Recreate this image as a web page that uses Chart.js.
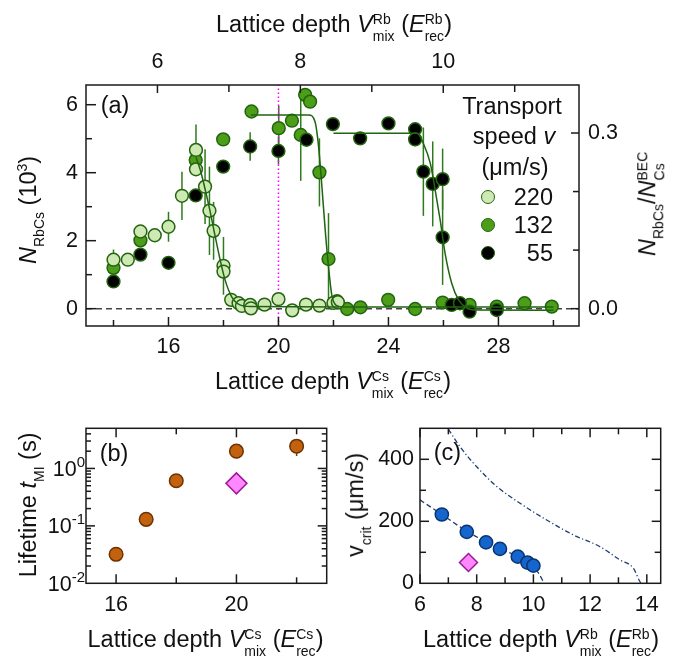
<!DOCTYPE html>
<html><head><meta charset="utf-8">
<title>RbCs transport</title>
<script src="https://cdn.jsdelivr.net/npm/chart.js@4.4.1/dist/chart.umd.min.js"></script>
<style>
html,body{margin:0;padding:0;background:#fff;}
#wrap{position:relative;width:676px;height:658px;overflow:hidden;font-family:"Liberation Sans",Arial,Helvetica,sans-serif;color:#111;}
.cv{position:absolute;}
.t{position:absolute;left:0;top:0;white-space:nowrap;font-size:23.5px;line-height:1;}
.tk{font-size:21.5px;}
.ss{display:inline-block;vertical-align:-9px;font-size:14px;line-height:17px;text-align:left;}
.ss>span{display:block;}
.sb{font-size:14px;vertical-align:-8px;line-height:1;}
.sp{font-size:14px;vertical-align:9px;line-height:1;}
.spt{font-size:15px;vertical-align:9px;line-height:1;}
.bl{display:inline-block;width:0;height:0;vertical-align:baseline;}
.mk{position:absolute;width:14px;height:14px;border-radius:50%;box-sizing:border-box;border:1.5px solid #23640f;}
</style></head><body>
<div id="wrap">
 <div class="cv" style="left:0;top:0"><canvas id="ca" width="676" height="400"></canvas></div>
 <div class="cv" style="left:0;top:400px"><canvas id="cb" width="340" height="258"></canvas></div>
 <div class="cv" style="left:340px;top:400px"><canvas id="cc" width="336" height="258"></canvas></div>

 <div class="t" data-x="334" data-y="24">Lattice depth <i>V</i><span class="ss"><span>Rb</span><span>mix</span></span> (<i>E</i><span class="ss"><span>Rb</span><span>rec</span></span>)</div>
 <div class="t" data-x="333" data-y="381">Lattice depth <i>V</i><span class="ss"><span>Cs</span><span>mix</span></span> (<i>E</i><span class="ss"><span>Cs</span><span>rec</span></span>)</div>
 <div class="t" data-x="28" data-y="210" data-rot="1"><i>N</i><span class="sb">RbCs</span> (10<span class="sp">3</span>)</div>
 <div class="t" data-x="647" data-y="204" data-rot="1"><i>N</i><span class="sb">RbCs</span>/<i>N</i><span class="ss"><span>BEC</span><span>Cs</span></span></div>
 <div class="t" data-x="115" data-y="105">(a)</div>
 <div class="t" data-x="512" data-y="106">Transport</div>
 <div class="t" data-x="514" data-y="136">speed <i>v</i></div>
 <div class="t" data-x="515" data-y="167">(μm/s)</div>
 <div class="t" data-x="553" data-y="197" data-al="r">220</div>
 <div class="t" data-x="553" data-y="225" data-al="r">132</div>
 <div class="t" data-x="553" data-y="253" data-al="r">55</div>
 <div class="mk" style="left:480.7px;top:189.7px;background:#cfe9b4"></div>
 <div class="mk" style="left:480.7px;top:218px;background:#4c9e19"></div>
 <div class="mk" style="left:480.7px;top:246.3px;background:#000"></div>

 <div class="t" data-x="205.5" data-y="639">Lattice depth <i>V</i><span class="ss"><span>Cs</span><span>mix</span></span> (<i>E</i><span class="ss"><span>Cs</span><span>rec</span></span>)</div>
 <div class="t" data-x="27" data-y="505" data-rot="1">Lifetime <i>t</i><span class="sb">MI</span> (s)</div>
 <div class="t" data-x="114" data-y="453">(b)</div>

 <div class="t" data-x="541" data-y="639">Lattice depth <i>V</i><span class="ss"><span>Rb</span><span>mix</span></span> (<i>E</i><span class="ss"><span>Rb</span><span>rec</span></span>)</div>
 <div class="t" data-x="355" data-y="505" data-rot="1">v<span class="sb">crit</span> (μm/s)</div>
 <div class="t" data-x="447.5" data-y="452">(c)</div>
</div>
<script>
// ================= DATA =================
// Panel (a): N_RbCs (10^3) vs Cs lattice depth, three transport speeds
const v220X = [14.0,14.52,14.98,15.5,16.0,16.49,17.0,17.0,17.33,17.49,17.64,18.0,18.0,18.28,18.55,18.67,18.97,19.0,19.49,20.0,20.5,21.0,21.49,22.0,22.16];
const v220Y = [1.44,1.44,2.27,2.16,2.41,3.32,4.67,4.1,3.59,2.88,2.29,1.26,1.09,0.26,0.16,0.08,0.11,0.01,0.12,0.28,-0.05,0.12,0.09,0.17,0.19];
const v220E = [0.3,0,0,0,0.44,0.71,0.75,0,1.1,1.3,0.85,0.85,0,0,0,0,0,0,0,0,0,0,0,0,0];
const v132X = [14.0,14.98,16.99,17.99,19.02,20.01,20.49,20.81,20.97,21.15,21.49,21.82,22.13,22.5,22.98,23.99,24.97,25.97,26.95,27.94,28.95,29.94];
const v132Y = [1.2,2.01,4.37,4.98,5.8,5.31,5.53,5.11,6.29,6.09,4.01,1.46,0.22,-0.01,0.04,0.26,-0.01,0.18,0.11,0.06,0.16,0.06];
const v132E = [0,0,0,0,0,0.66,0,1.35,0,0,1.0,1.35,0,0,0,0,0,0,0,0,0,0];
const v55X = [14.0,14.98,16.0,16.99,17.99,18.97,20.0,21.02,21.98,22.97,24.0,24.97,24.97,25.27,25.61,25.97,25.97,26.3,26.6,26.95,27.94];
const v55Y = [0.8,1.59,1.35,3.33,4.18,4.77,4.64,4.97,5.43,5.01,5.45,5.28,4.98,4.03,3.67,3.81,2.1,0.11,0.16,-0.09,-0.04];
const v55E = [0,0,0,0,0,0.42,0.4,0,0,0,0,0,0.2,1.3,1.25,0.9,1.4,0,0,0,0];
// fitted curves
const fit220X = [17.0,17.15,17.28,17.49,17.7,17.88,18.06,18.3,18.6,19.0,22.2];
const fit220Y = [4.45,4.1,3.69,2.95,2.12,1.43,0.84,0.35,0.11,0.06,0.05];
const fit132X = [19.0,21.1,21.33,21.46,21.58,21.7,21.82,21.94,22.1,22.4,30.0];
const fit132Y = [5.7,5.7,5.5,4.76,3.59,2.31,1.23,0.4,0.1,0.05,0.05];
const fit55X = [22.0,25.05,25.27,25.52,25.7,25.88,26.06,26.3,26.55,26.85,27.2,30.0];
const fit55Y = [5.16,5.16,4.86,4.28,3.49,2.61,1.63,0.75,0.26,0.02,-0.04,-0.05];
const zeroX = [13, 30.93], zeroY = [0, 0];
const markX = [20, 20], markY = [-0.51, 6.58];
// ticks panel (a)
const csTicks = [16,20,24,28], csMinor = [14,18,22,26,30];
const rbTicks = [6,8,10], rbMinor = [7,9,11];
const nTicks = [0,2,4,6], nMinor = [1,3,5];
const ratioTicks = [0.0,0.3], ratioMinor = [0.1,0.2];

// Panel (b): lifetime
const lifeX = [16,17,18,20,22];
const lifeY = [0.032,0.13,0.61,2.0,2.44];
const lifeE = [0,0,0,0.5,0.8];
const lifeDX = [20], lifeDY = [0.55];
const bXTicks = [16,20], bXMinor = [18,22];
const bYTicks = [0.01,0.1,1];
const bYMajorMarks = [0.1,1];
const bYMinor = [0.02,0.03,0.04,0.05,0.06,0.07,0.08,0.09,0.2,0.3,0.4,0.5,0.6,0.7,0.8,0.9,2,3,4];
const bYExp = ['-2','-1','0'];

// Panel (c): critical velocity
const critX = [6.77,7.65,8.33,8.82,9.45,9.79,10.0];
const critY = [222,166,132,111,86,67,57];
const critDX = [7.71], critDY = [67];
const lowX = [6.0,6.77,7.65,8.33,8.82,9.45,9.8,10.0,10.18,10.38];
const lowY = [269,222,168,134,112,86,68,55,33,0];
const upX = [7.0,7.41,8.0,8.71,9.53,10.47,11.41,12.35,13.06,13.53,13.76,13.8];
const upY = [497,441,376,312,258,204,156,118,75,48,5,0];
const cXTicks = [6,8,10,12,14], cXMinor = [7,9,11,13];
const cYTicks = [0,200,400], cYMarks = [200,400], cYMinor = [100,300];

// ================= HELPERS =================
const FONT = '"Liberation Sans", Arial, sans-serif';
Chart.defaults.font.family = FONT;
const tickFont = {family: FONT, size: 21.5};
const pts = (xs, ys) => xs.map((x, i) => ({x, y: ys[i]}));
const ptStyle = (bg, bd, r, style) => ({showLine:false, pointStyle: style || 'circle', pointRadius:r, pointHoverRadius:r,
  pointBackgroundColor:bg, pointBorderColor:bd, pointBorderWidth:1.5, backgroundColor:bg, borderColor:bd});
const lineStyle = (c, w, dash, mono) => ({showLine:true, pointRadius:0, pointHoverRadius:0, borderColor:c, borderWidth:w,
  borderDash:dash || [], fill:false, cubicInterpolationMode: mono ? 'monotone' : 'default', tension:0});
const setTicks = arr => s => { s.ticks = arr.map(v => ({value: v})); };
const axisCommon = (pad) => ({ticks:{font:tickFont, color:'#111', padding:pad, maxRotation:0, autoSkip:false},
  grid:{display:false, drawTicks:false}, border:{display:false}});

const errPlugin = {id:'errbars', beforeDatasetsDraw(chart){
  const ctx = chart.ctx, a = chart.chartArea;
  ctx.save(); ctx.beginPath(); ctx.rect(a.left, a.top, a.right - a.left, a.bottom - a.top); ctx.clip();
  chart.data.datasets.forEach((ds, i) => {
    if (!ds.errY) return;
    const meta = chart.getDatasetMeta(i);
    const xs = chart.scales[meta.xAxisID], ys = chart.scales[meta.yAxisID];
    ctx.strokeStyle = ds.errColor || '#2f7a1c'; ctx.lineWidth = 1.5;
    ds.data.forEach((p, j) => {
      const e = ds.errY[j]; if (!e) return;
      const x = xs.getPixelForValue(p.x);
      ctx.beginPath(); ctx.moveTo(x, ys.getPixelForValue(p.y - e)); ctx.lineTo(x, ys.getPixelForValue(p.y + e)); ctx.stroke();
    });
  });
  ctx.restore();
}};
function framePlugin(spec){
  return {id:'frame', afterDatasetsDraw(chart){
    const ctx = chart.ctx, a = chart.chartArea;
    ctx.save(); ctx.strokeStyle = '#1a1a1a'; ctx.lineWidth = 1.5;
    ctx.strokeRect(a.left, a.top, a.right - a.left, a.bottom - a.top);
    spec.forEach(t => {
      const s = chart.scales[t.scale];
      t.values.forEach(v => {
        const p = s.getPixelForValue(v);
        ctx.beginPath();
        if (t.side === 'bottom') { ctx.moveTo(p, a.bottom); ctx.lineTo(p, a.bottom - t.len); }
        else if (t.side === 'top') { ctx.moveTo(p, a.top); ctx.lineTo(p, a.top + t.len); }
        else if (t.side === 'left') { ctx.moveTo(a.left, p); ctx.lineTo(a.left + t.len, p); }
        else { ctx.moveTo(a.right, p); ctx.lineTo(a.right - t.len, p); }
        ctx.stroke();
      });
    });
    ctx.restore();
  }};
}
const baseOpts = {responsive:false, animation:false, events:[], plugins:{legend:{display:false}, tooltip:{enabled:false}}};

// ================= PANEL (a) =================
const LIGHT = '#cfe9b4', MED = '#4c9e19', BORD = '#23640f', FIT = '#1f6410';
new Chart(document.getElementById('ca'), {
  type:'scatter',
  data:{datasets:[
    {data:pts(fit220X, fit220Y), ...lineStyle(FIT, 1.5, null, true)},
    {data:pts(fit132X, fit132Y), ...lineStyle(FIT, 1.5, null, true)},
    {data:pts(fit55X, fit55Y), ...lineStyle(FIT, 1.5, null, true)},
    {data:pts(v220X, v220Y), errY:v220E, ...ptStyle(LIGHT, BORD, 6.4)},
    {data:pts(v55X, v55Y), errY:v55E, ...ptStyle('#000', BORD, 6.4)},
    {data:pts(v132X, v132Y), errY:v132E, ...ptStyle(MED, BORD, 6.4)},
    {data:pts(zeroX, zeroY), ...lineStyle('#444', 1.5, [6,4])},
    {data:pts(markX, markY), ...lineStyle('#ff00ff', 1.5, [1.5,2.5])}
  ]},
  options:{...baseOpts, layout:{padding:0},
    scales:{
      x:{type:'linear', position:'bottom', min:13, max:30.93, afterBuildTicks:setTicks(csTicks), afterFit:s=>{s.height=74;}, ...axisCommon(8)},
      xTop:{type:'linear', position:'top', min:5.0, max:11.9, afterBuildTicks:setTicks(rbTicks), afterFit:s=>{s.height=85;}, ...axisCommon(10)},
      y:{type:'linear', position:'left', min:-0.51, max:6.58, afterBuildTicks:setTicks(nTicks), afterFit:s=>{s.width=86;}, ...axisCommon(8)},
      yR:{type:'linear', position:'right', min:-0.0296, max:0.382, afterBuildTicks:setTicks(ratioTicks), afterFit:s=>{s.width=97;},
          ...axisCommon(9), ticks:{font:tickFont, color:'#111', padding:9, callback:v=>Number(v).toFixed(1)}}
    }},
  plugins:[errPlugin, framePlugin([
    {scale:'x', side:'bottom', values:csTicks, len:9}, {scale:'x', side:'bottom', values:csMinor, len:6},
    {scale:'xTop', side:'top', values:rbTicks, len:8}, {scale:'xTop', side:'top', values:rbMinor, len:7},
    {scale:'y', side:'left', values:nTicks, len:10}, {scale:'y', side:'left', values:nMinor, len:6},
    {scale:'yR', side:'right', values:ratioTicks, len:8}, {scale:'yR', side:'right', values:ratioMinor, len:6}
  ])]
});

// ================= PANEL (b) =================
let chartB = new Chart(document.getElementById('cb'), {
  type:'scatter',
  data:{datasets:[
    {data:pts(lifeDX, lifeDY), ...ptStyle('#ff88ff', '#a0189a', 10.5, 'rectRot')},
    {data:pts(lifeX, lifeY), errY:lifeE, errColor:'#7a3a05', ...ptStyle('#c3620e', '#6e3300', 6.8)}
  ]},
  options:{...baseOpts, layout:{padding:{top:28.3, right:13.3}},
    scales:{
      x:{type:'linear', position:'bottom', min:15, max:23, afterBuildTicks:setTicks(bXTicks), afterFit:s=>{s.height=74.7;}, ...axisCommon(9)},
      y:{type:'logarithmic', position:'left', min:0.01, max:5, afterBuildTicks:setTicks(bYTicks), afterFit:s=>{s.width=86;},
         ...axisCommon(8), ticks:{display:false}}
    }},
  plugins:[errPlugin, framePlugin([
    {scale:'x', side:'bottom', values:bXTicks, len:9}, {scale:'x', side:'bottom', values:bXMinor, len:6},
    {scale:'x', side:'top', values:bXTicks, len:9}, {scale:'x', side:'top', values:bXMinor, len:6},
    {scale:'y', side:'left', values:bYMajorMarks, len:9}, {scale:'y', side:'left', values:bYMinor, len:5},
    {scale:'y', side:'right', values:bYMajorMarks, len:9}, {scale:'y', side:'right', values:bYMinor, len:5}
  ])]
});

// ================= PANEL (c) =================
const NAVY = '#1b3f73';
new Chart(document.getElementById('cc'), {
  type:'scatter',
  data:{datasets:[
    {data:pts(critDX, critDY), ...ptStyle('#ff88ff', '#a0189a', 9, 'rectRot')},
    {data:pts(critX, critY), ...ptStyle('#1565cf', '#0a3570', 6.6)},
    {data:pts(lowX, lowY), ...lineStyle(NAVY, 1.3, [5,3], true)},
    {data:pts(upX, upY), ...lineStyle(NAVY, 1.3, [5,2.5,1.2,2.5], true)}
  ]},
  options:{...baseOpts, layout:{padding:{top:28.3, right:15.3}},
    scales:{
      x:{type:'linear', position:'bottom', min:6, max:14.49, afterBuildTicks:setTicks(cXTicks), afterFit:s=>{s.height=74.7;}, ...axisCommon(9)},
      y:{type:'linear', position:'left', min:0, max:500, afterBuildTicks:setTicks(cYTicks), afterFit:s=>{s.width=80;}, ...axisCommon(6)}
    }},
  plugins:[framePlugin([
    {scale:'x', side:'bottom', values:cXTicks, len:9}, {scale:'x', side:'bottom', values:cXMinor, len:6},
    {scale:'x', side:'top', values:cXTicks, len:9}, {scale:'x', side:'top', values:cXMinor, len:6},
    {scale:'y', side:'left', values:cYMarks, len:9}, {scale:'y', side:'left', values:cYMinor, len:6},
    {scale:'y', side:'right', values:cYMarks, len:9}, {scale:'y', side:'right', values:cYMinor, len:6}
  ])]
});

// ================= TEXT PLACEMENT =================
const wrap = document.getElementById('wrap');
// log tick labels of panel (b), positioned through its y scale
bYTicks.forEach((v, i) => {
  const d = document.createElement('div');
  d.className = 't tk';
  d.innerHTML = '10<span class="spt">' + bYExp[i] + '</span>';
  d.dataset.x = 85; d.dataset.al = 'r';
  d.dataset.y = 400 + chartB.scales.y.getPixelForValue(v);
  wrap.appendChild(d);
});
function place(el){
  const xc = +el.dataset.x, yc = +el.dataset.y, al = el.dataset.al || 'c', rot = el.dataset.rot === '1';
  if (!el.querySelector('.bl')) el.insertAdjacentHTML('beforeend', '<span class="bl"></span>');
  el.style.transform = 'none'; el.style.left = '0px'; el.style.top = '0px';
  const fs = parseFloat(getComputedStyle(el).fontSize);
  const r0 = el.getBoundingClientRect(), rb = el.querySelector('.bl').getBoundingClientRect();
  const W = r0.width, oy = rb.top - r0.top - 0.344 * fs;
  const ox = al === 'r' ? W : (al === 'l' ? 0 : W / 2);
  el.style.transformOrigin = ox + 'px ' + oy + 'px';
  el.style.left = (xc - ox) + 'px'; el.style.top = (yc - oy) + 'px';
  if (rot) el.style.transform = 'rotate(-90deg)';
}
function placeAll(){ document.querySelectorAll('#wrap .t').forEach(place); }
placeAll();
if (document.fonts && document.fonts.ready) document.fonts.ready.then(placeAll);
</script>
</body></html>
